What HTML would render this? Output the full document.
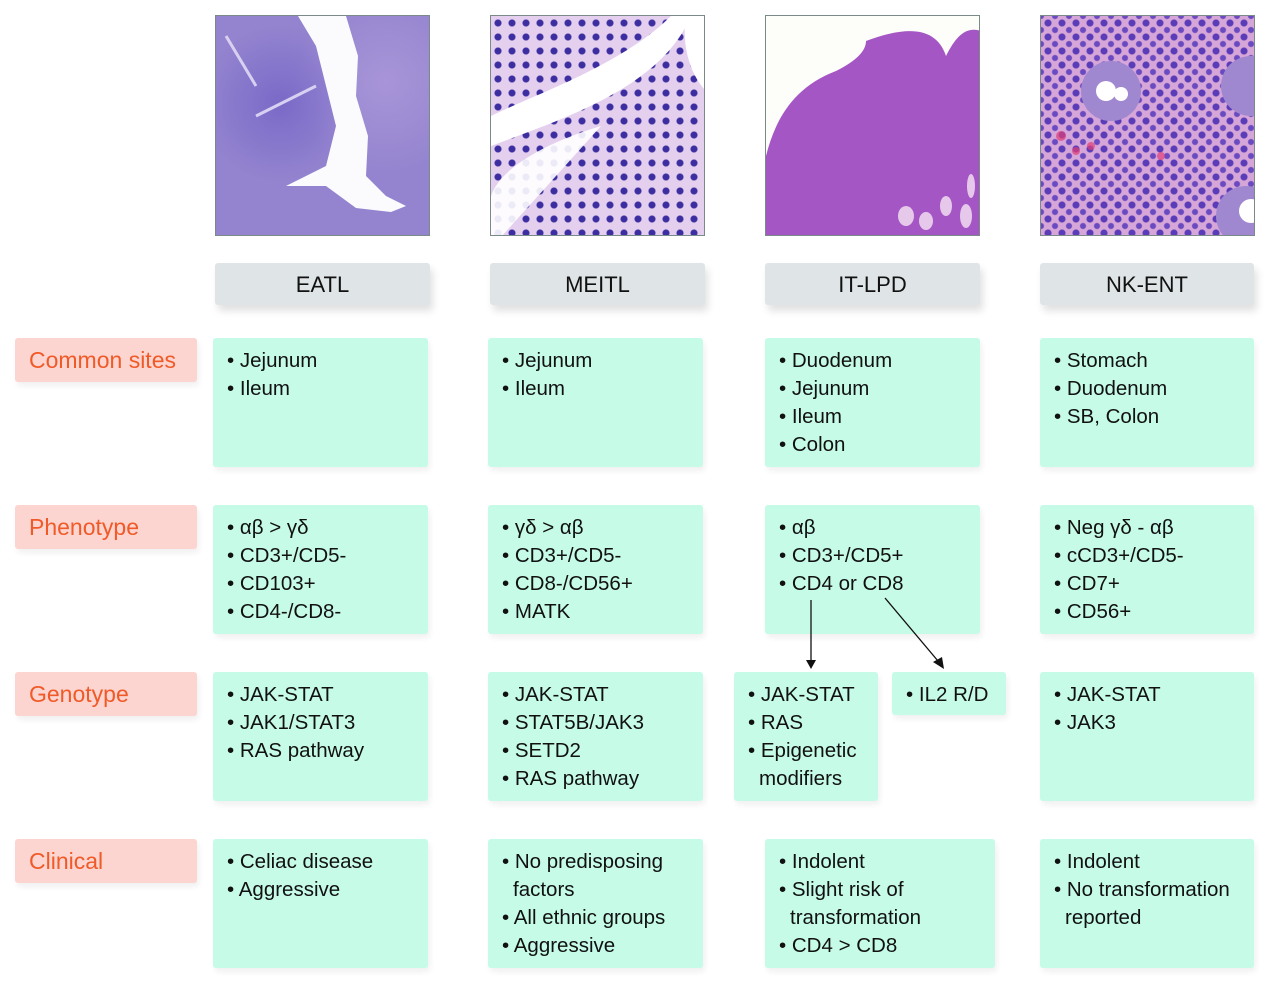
<!DOCTYPE html>
<html><head><meta charset="utf-8"><style>
body{margin:0;width:1280px;height:990px;background:#fff;position:relative;overflow:hidden;font-family:"Liberation Sans",sans-serif;}
.a{position:absolute;box-sizing:border-box;}
.img{border:1px solid #7a8a88;}
.hd{background:#dfe4e6;border-radius:3px;box-shadow:3px 6px 8px rgba(0,0,0,.12);font-size:22px;color:#111;text-align:center;line-height:44px;}
.lb{background:#fcd5d0;border-radius:3px;box-shadow:2px 4px 6px rgba(0,0,0,.06);color:#f05a28;font-size:23px;line-height:44px;padding-left:14px;}
.bx{background:#c6fbe8;border-radius:3px;box-shadow:2px 4px 6px rgba(0,0,0,.06);font-size:20.5px;color:#111;line-height:28px;padding:9px 0 0 14px;}
.bx div{white-space:nowrap}
.c{padding-left:11px}
</style></head><body>

<div class="a img" style="left:215px;top:15px;width:215px;height:221px;background:radial-gradient(circle at 30% 40%,#7a6ac8 0,transparent 40%),radial-gradient(circle at 80% 30%,#a895d8 0,transparent 40%),#9484cf;overflow:hidden">
<svg width="215" height="221" style="position:absolute;left:0;top:0"><polygon points="82,0 130,0 142,40 140,80 152,120 150,160 170,180 190,190 175,196 140,192 110,170 70,170 110,150 120,110 110,70 100,30" fill="#fbfbfd"/><path d="M10,20 l30,50 M40,100 l60,-30" stroke="#d8d0f0" stroke-width="3"/></svg></div>

<div class="a img" style="left:490px;top:15px;width:215px;height:221px;background:radial-gradient(circle,#3c2ea0 3px,transparent 4px) 0 0/14px 14px,#e4d0ee;overflow:hidden">
<svg width="215" height="221" style="position:absolute;left:0;top:0"><path d="M0,100 C40,80 130,50 180,0 L200,0 C170,70 80,100 0,130 Z" fill="#fff"/><path d="M0,180 C10,150 60,125 110,110 L10,221 L0,221Z" fill="#fff" opacity=".9"/><path d="M215,0 L195,0 C190,30 200,60 215,75Z" fill="#fff"/></svg></div>

<div class="a img" style="left:765px;top:15px;width:215px;height:221px;background:#fdfdfa;overflow:hidden">
<svg width="215" height="221" style="position:absolute;left:0;top:0"><path d="M0,140 C10,100 30,70 70,55 C90,45 100,35 100,25 C140,10 170,10 180,40 C190,20 200,10 215,15 L215,221 L0,221Z" fill="#a456c4"/><g fill="#e6c8ea"><ellipse cx="140" cy="200" rx="8" ry="10"/><ellipse cx="160" cy="205" rx="7" ry="9"/><ellipse cx="180" cy="190" rx="6" ry="10"/><ellipse cx="200" cy="200" rx="6" ry="12"/><ellipse cx="205" cy="170" rx="4" ry="12"/></g></svg></div>

<div class="a img" style="left:1040px;top:15px;width:215px;height:221px;background:radial-gradient(circle,#5a3cb8 3px,transparent 4px) 0 0/14px 14px,radial-gradient(circle,#6a4ac0 2.5px,transparent 3.5px) 7px 7px/14px 14px,#d6a6d8;overflow:hidden">
<svg width="215" height="221" style="position:absolute;left:0;top:0"><circle cx="70" cy="75" r="30" fill="#a088d0"/><circle cx="65" cy="75" r="10" fill="#fff"/><circle cx="80" cy="78" r="7" fill="#fff"/><circle cx="210" cy="70" r="30" fill="#a088d0"/><circle cx="205" cy="200" r="30" fill="#a088d0"/><circle cx="210" cy="195" r="12" fill="#fff"/><g fill="#e0407a" opacity=".7"><circle cx="20" cy="120" r="5"/><circle cx="35" cy="135" r="4"/><circle cx="50" cy="130" r="4"/><circle cx="120" cy="140" r="4"/></g></svg></div>

<div class="a hd" style="left:215px;top:263px;width:215px;height:42px">EATL</div>
<div class="a hd" style="left:490px;top:263px;width:215px;height:42px">MEITL</div>
<div class="a hd" style="left:765px;top:263px;width:215px;height:42px">IT-LPD</div>
<div class="a hd" style="left:1040px;top:263px;width:214px;height:42px">NK-ENT</div>

<div class="a lb" style="left:15px;top:338px;width:182px;height:44px">Common sites</div>
<div class="a lb" style="left:15px;top:505px;width:182px;height:44px">Phenotype</div>
<div class="a lb" style="left:15px;top:672px;width:182px;height:44px">Genotype</div>
<div class="a lb" style="left:15px;top:839px;width:182px;height:44px">Clinical</div>

<div class="a bx" style="left:213px;top:338px;width:215px;height:129px"><div>• Jejunum</div><div>• Ileum</div></div>
<div class="a bx" style="left:488px;top:338px;width:215px;height:129px"><div>• Jejunum</div><div>• Ileum</div></div>
<div class="a bx" style="left:765px;top:338px;width:215px;height:129px"><div>• Duodenum</div><div>• Jejunum</div><div>• Ileum</div><div>• Colon</div></div>
<div class="a bx" style="left:1040px;top:338px;width:214px;height:129px"><div>• Stomach</div><div>• Duodenum</div><div>• SB, Colon</div></div>

<div class="a bx" style="left:213px;top:505px;width:215px;height:129px"><div>• αβ &gt; γδ</div><div>• CD3+/CD5-</div><div>• CD103+</div><div>• CD4-/CD8-</div></div>
<div class="a bx" style="left:488px;top:505px;width:215px;height:129px"><div>• γδ &gt; αβ</div><div>• CD3+/CD5-</div><div>• CD8-/CD56+</div><div>• MATK</div></div>
<div class="a bx" style="left:765px;top:505px;width:215px;height:129px"><div>• αβ</div><div>• CD3+/CD5+</div><div>• CD4 or CD8</div></div>
<div class="a bx" style="left:1040px;top:505px;width:214px;height:129px"><div>• Neg γδ - αβ</div><div>• cCD3+/CD5-</div><div>• CD7+</div><div>• CD56+</div></div>

<div class="a bx" style="left:213px;top:672px;width:215px;height:129px"><div>• JAK-STAT</div><div>• JAK1/STAT3</div><div>• RAS pathway</div></div>
<div class="a bx" style="left:488px;top:672px;width:215px;height:129px"><div>• JAK-STAT</div><div>• STAT5B/JAK3</div><div>• SETD2</div><div>• RAS pathway</div></div>
<div class="a bx" style="left:734px;top:672px;width:144px;height:129px"><div>• JAK-STAT</div><div>• RAS</div><div>• Epigenetic</div><div class="c">modifiers</div></div>
<div class="a bx" style="left:892px;top:672px;width:114px;height:43px"><div>• IL2 R/D</div></div>
<div class="a bx" style="left:1040px;top:672px;width:214px;height:129px"><div>• JAK-STAT</div><div>• JAK3</div></div>

<div class="a bx" style="left:213px;top:839px;width:215px;height:129px"><div>• Celiac disease</div><div>• Aggressive</div></div>
<div class="a bx" style="left:488px;top:839px;width:215px;height:129px"><div>• No predisposing</div><div class="c">factors</div><div>• All ethnic groups</div><div>• Aggressive</div></div>
<div class="a bx" style="left:765px;top:839px;width:230px;height:129px"><div>• Indolent</div><div>• Slight risk of</div><div class="c">transformation</div><div>• CD4 &gt; CD8</div></div>
<div class="a bx" style="left:1040px;top:839px;width:214px;height:129px"><div>• Indolent</div><div>• No transformation</div><div class="c">reported</div></div>

<svg class="a" style="left:0;top:0" width="1280" height="990">
<line x1="811" y1="600" x2="811" y2="660" stroke="#111" stroke-width="1.3"/>
<polygon points="806,660 816,660 811,669" fill="#111"/>
<line x1="885" y1="598" x2="938" y2="661" stroke="#111" stroke-width="1.3"/>
<polygon points="933,662 942,657 944,669" fill="#111"/>
</svg>
</body></html>
